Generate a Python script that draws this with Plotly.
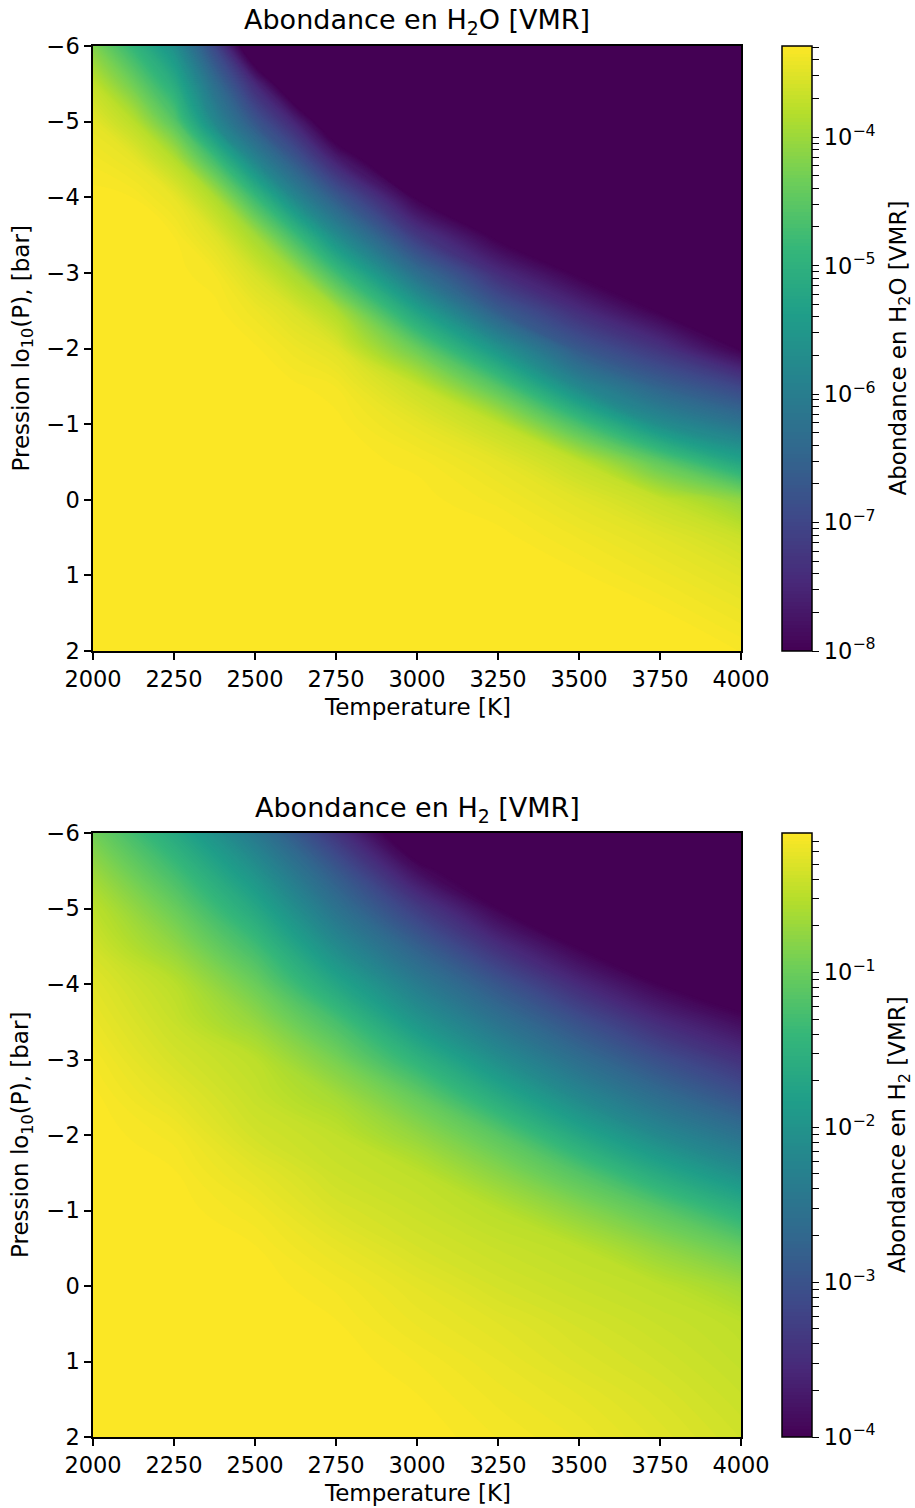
import numpy as np
import plotly.graph_objects as go

# ---------------- data ----------------
logP_bar = [-6.0, -5.5, -5.0, -4.5, -4.0, -3.5, -3.0, -2.5, -2.0,
            -1.5, -1.0, -0.5, 0.0, 0.5, 1.0, 1.5, 2.0]

# H2O: log10 VMR, one row per logP value (below 1e-8 is drawn clipped)
T_h2o = [2000, 2125, 2250, 2375, 2500, 2625, 2750, 3000, 3250, 3500, 3750, 4000]
h2o_log10 = [
    [-4.20, -4.90, -5.65, -6.98, -8.60, -10.2, -10.5, -10.5, -10.5, -10.5, -10.5, -10.5],
    [-3.72, -4.34, -5.09, -6.30, -7.45, -8.60, -9.90, -10.5, -10.5, -10.5, -10.5, -10.5],
    [-3.47, -3.78, -4.53, -5.79, -6.72, -7.54, -8.54, -9.69, -10.26, -10.5, -10.5, -10.5],
    [-3.36, -3.45, -3.81, -4.74, -5.87, -6.71, -7.59, -8.87, -9.54, -10.09, -10.5, -10.5],
    [-3.30, -3.32, -3.44, -3.86, -4.81, -5.84, -6.65, -8.04, -8.83, -9.42, -10.28, -10.5],
    [-3.30, -3.30, -3.32, -3.51, -3.95, -4.79, -5.73, -7.22, -8.11, -8.74, -9.53, -10.5],
    [-3.30, -3.30, -3.30, -3.35, -3.58, -3.95, -4.75, -6.29, -7.40, -8.07, -8.79, -9.87],
    [-3.30, -3.30, -3.30, -3.30, -3.40, -3.55, -3.86, -5.30, -6.62, -7.40, -8.04, -8.91],
    [-3.30, -3.30, -3.30, -3.30, -3.31, -3.40, -3.50, -4.38, -5.58, -6.69, -7.29, -8.04],
    [-3.30, -3.30, -3.30, -3.30, -3.30, -3.31, -3.35, -3.67, -4.56, -5.81, -6.52, -7.01],
    [-3.30, -3.30, -3.30, -3.30, -3.30, -3.30, -3.30, -3.45, -3.72, -4.68, -5.70, -6.19],
    [-3.30, -3.30, -3.30, -3.30, -3.30, -3.30, -3.30, -3.33, -3.46, -3.72, -4.47, -5.25],
    [-3.30, -3.30, -3.30, -3.30, -3.30, -3.30, -3.30, -3.30, -3.36, -3.49, -3.69, -4.07],
    [-3.30, -3.30, -3.30, -3.30, -3.30, -3.30, -3.30, -3.30, -3.30, -3.38, -3.49, -3.65],
    [-3.30, -3.30, -3.30, -3.30, -3.30, -3.30, -3.30, -3.30, -3.30, -3.31, -3.39, -3.50],
    [-3.30, -3.30, -3.30, -3.30, -3.30, -3.30, -3.30, -3.30, -3.30, -3.30, -3.31, -3.40],
    [-3.30, -3.30, -3.30, -3.30, -3.30, -3.30, -3.30, -3.30, -3.30, -3.30, -3.30, -3.32],
]

# H2: log10 VMR (below 1e-4 is drawn clipped)
T_h2 = [2000, 2250, 2500, 2750, 3000, 3250, 3500, 3750, 4000]
h2_log10 = [
    [-0.95, -1.64, -2.43, -3.40, -4.40, -5.00, -5.40, -5.50, -5.50],
    [-0.70, -1.30, -2.03, -2.91, -3.86, -4.42, -4.87, -5.32, -5.50],
    [-0.48, -1.00, -1.67, -2.52, -3.29, -3.99, -4.45, -4.88, -5.27],
    [-0.37, -0.75, -1.31, -2.13, -2.80, -3.48, -4.02, -4.44, -4.81],
    [-0.27, -0.50, -0.99, -1.70, -2.37, -2.95, -3.54, -4.00, -4.35],
    [-0.21, -0.42, -0.73, -1.25, -1.96, -2.52, -3.03, -3.53, -3.88],
    [-0.15, -0.34, -0.49, -0.91, -1.48, -2.09, -2.60, -3.05, -3.44],
    [-0.11, -0.25, -0.43, -0.63, -1.03, -1.61, -2.17, -2.61, -3.00],
    [-0.10, -0.16, -0.36, -0.46, -0.74, -1.11, -1.68, -2.17, -2.53],
    [-0.10, -0.12, -0.25, -0.40, -0.48, -0.80, -1.16, -1.65, -2.07],
    [-0.10, -0.10, -0.17, -0.32, -0.41, -0.51, -0.80, -1.11, -1.53],
    [-0.10, -0.10, -0.12, -0.225, -0.34, -0.42, -0.49, -0.75, -1.02],
    [-0.10, -0.10, -0.10, -0.155, -0.25, -0.35, -0.42, -0.48, -0.67],
    [-0.10, -0.10, -0.10, -0.12, -0.20, -0.27, -0.35, -0.42, -0.48],
    [-0.10, -0.10, -0.10, -0.10, -0.15, -0.22, -0.30, -0.37, -0.45],
    [-0.10, -0.10, -0.10, -0.10, -0.12, -0.18, -0.24, -0.32, -0.41],
    [-0.10, -0.10, -0.10, -0.10, -0.10, -0.15, -0.20, -0.28, -0.37],
]

h2o_range = [-8.0, -3.29]
h2_range = [-4.0, -0.10]

x_ticks = [2000, 2250, 2500, 2750, 3000, 3250, 3500, 3750, 4000]
y_ticks = [-6, -5, -4, -3, -2, -1, 0, 1, 2]

# ---------------- layout helpers ----------------
W, H = 915, 1508
FONT = "DejaVu Sans"


def fx(px):
    return px / W


def fy(py):
    return 1 - py / H


def log_ticks(lo, hi):
    vals, texts = [], []
    for d in range(int(np.floor(lo)), int(np.ceil(hi)) + 1):
        for k in range(1, 10):
            v = d + np.log10(k)
            if lo - 1e-6 <= v <= hi + 1e-6:
                vals.append(v)
                texts.append("10<sup>\u2212%d</sup>" % (-d) if k == 1 else "")
    return vals, texts


panels = [
    dict(x=T_h2o, z=h2o_log10, rng=h2o_range, top=46, bottom=651,
         xa="x", ya="y",
         title="Abondance en H<sub>2</sub>O [VMR]",
         cbtitle="Abondance en H<sub>2</sub>O [VMR]"),
    dict(x=T_h2, z=h2_log10, rng=h2_range, top=833, bottom=1437,
         xa="x2", ya="y2",
         title="Abondance en H<sub>2</sub> [VMR]",
         cbtitle="Abondance en H<sub>2</sub> [VMR]"),
]

LEFT, RIGHT = 93, 741
TICK_SIZE = 22.5
LABEL_SIZE = 23
TITLE_SIZE = 27

fig = go.Figure()
annotations = []

for i, p in enumerate(panels):
    lo, hi = p["rng"]
    tv, tt = log_ticks(lo, hi)
    mid = (p["top"] + p["bottom"]) / 2
    fig.add_trace(go.Contour(
        x=p["x"], y=logP_bar, z=p["z"], xaxis=p["xa"], yaxis=p["ya"],
        colorscale="Viridis", zmin=lo, zmax=hi, autocontour=False,
        contours=dict(coloring="fill", start=lo, end=hi,
                      size=(hi - lo) / 160, showlines=False),
        line=dict(width=0, smoothing=1.3),
        hoverinfo="skip",
        colorbar=dict(
            x=fx(782), xanchor="left", xpad=0, ypad=0,
            y=fy(mid), yanchor="middle",
            len=p["bottom"] - p["top"], lenmode="pixels",
            thickness=30, thicknessmode="pixels",
            outlinewidth=1.5, outlinecolor="black",
            tickmode="array", tickvals=tv, ticktext=tt,
            ticks="outside", ticklen=7, tickwidth=1.3, tickcolor="black",
            tickfont=dict(family=FONT, size=TICK_SIZE, color="black"),
        ),
    ))
    suffix = "" if i == 0 else "2"
    common = dict(
        showline=True, mirror=True, linecolor="black", linewidth=1.5,
        ticks="outside", ticklen=7, tickwidth=1.5, tickcolor="black",
        tickfont=dict(family=FONT, size=TICK_SIZE, color="black"),
        showgrid=False, zeroline=False,
    )
    fig.update_layout(**{
        "xaxis" + suffix: dict(
            domain=[fx(LEFT), fx(RIGHT)], anchor="y" + suffix,
            range=[2000, 4000], tickmode="array", tickvals=x_ticks,
            **common),
        "yaxis" + suffix: dict(
            domain=[fy(p["bottom"]), fy(p["top"])], anchor="x" + suffix,
            range=[2, -6], tickmode="array", tickvals=y_ticks,
            **common),
    })
    annotations += [
        dict(text=p["title"], x=fx((LEFT + RIGHT) / 2), y=fy(p["top"] - 24),
             xref="paper", yref="paper", showarrow=False,
             xanchor="center", yanchor="middle",
             font=dict(family=FONT, size=TITLE_SIZE, color="black")),
        dict(text="Temperature [K]", x=fx((LEFT + RIGHT) / 2),
             y=fy(p["bottom"] + 56), xref="paper", yref="paper",
             showarrow=False, xanchor="center", yanchor="middle",
             font=dict(family=FONT, size=LABEL_SIZE, color="black")),
        dict(text="Pression lo<sub>10</sub>(P), [bar]", x=fx(22), y=fy(mid),
             xref="paper", yref="paper", showarrow=False, textangle=-90,
             xanchor="center", yanchor="middle",
             font=dict(family=FONT, size=LABEL_SIZE, color="black")),
        dict(text=p["cbtitle"], x=fx(899), y=fy(mid), xref="paper",
             yref="paper", showarrow=False, textangle=-90,
             xanchor="center", yanchor="middle",
             font=dict(family=FONT, size=LABEL_SIZE, color="black")),
    ]

fig.update_layout(
    width=W, height=H,
    margin=dict(l=0, r=0, t=0, b=0, autoexpand=False),
    paper_bgcolor="white", plot_bgcolor="white",
    annotations=annotations, showlegend=False,
)

fig.write_html(
    "out.html",
    config={"displayModeBar": False},
    post_script="document.body.style.margin='0px';"
                "document.body.style.overflow='hidden';",
)
